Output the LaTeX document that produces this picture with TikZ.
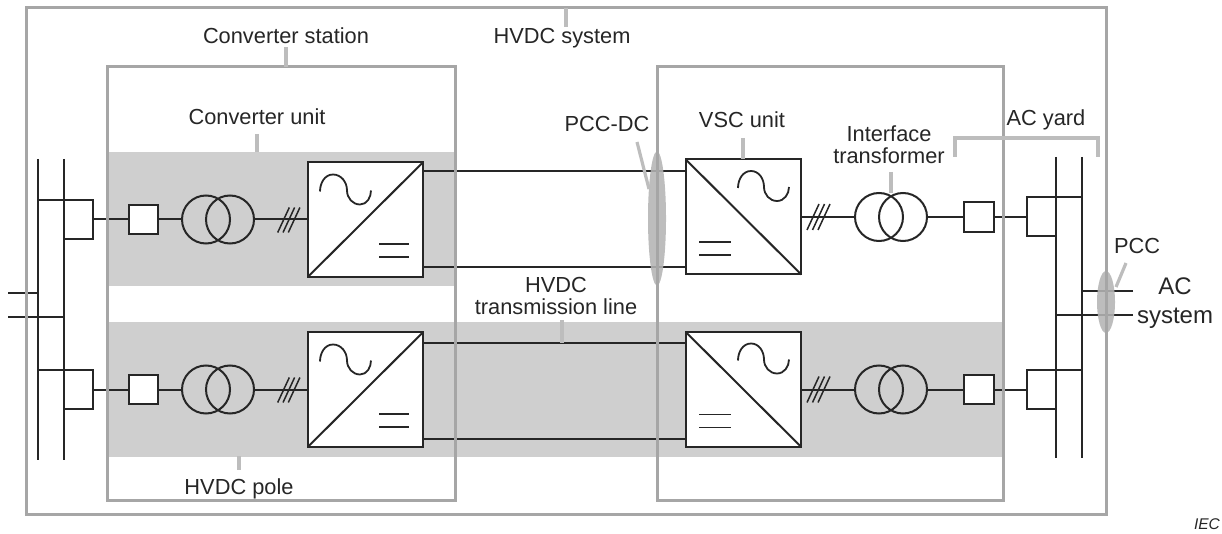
\documentclass[tikz,border=0pt]{standalone}
\usepackage{fontspec}
\setmainfont{Liberation Sans}
\usepackage{xcolor}
\usetikzlibrary{positioning,calc,shapes.geometric}
\definecolor{ink}{HTML}{262626}
\definecolor{framegray}{HTML}{A6A6A6}
\definecolor{leadgray}{HTML}{BDBDBD}
\definecolor{bandgray}{HTML}{CFCFCF}
\definecolor{spotgray}{HTML}{B4B4B4}
\tikzset{
    every picture/.style={line join=miter},
    wire/.style={draw=ink,line width=2pt},
    lead/.style={draw=leadgray,line width=3.2pt},
    framebox/.style={draw=framegray,line width=3pt,inner sep=0pt,outer sep=0pt},
    bandbox/.style={fill=bandgray,inner sep=0pt,outer sep=0pt},
    breaker/.style={draw=ink,fill=white,line width=2pt,minimum size=29.5pt,inner sep=0pt,outer sep=0pt},
    winding/.style={circle,draw=ink,line width=2pt,minimum size=48pt,inner sep=0pt,outer sep=0pt},
    convbox/.style={draw=ink,fill=white,line width=2pt,minimum width=115.5pt,minimum height=115pt,inner sep=0pt,outer sep=0pt},
    spot/.style={ellipse,fill=spotgray,fill opacity=0.88,inner sep=0pt,outer sep=0pt},
    lbl/.style={text=ink,inner sep=0pt,anchor=base,font=\fontsize{21.8}{22}\selectfont,align=center}
}
\begin{document}
\begin{tikzpicture}[x=1pt,y=-1pt]
  \useasboundingbox (0,0) rectangle (1222,534);
  \node[bandbox,minimum width=348pt,minimum height=134pt] (bandU) at (281,219) {};
  \node[bandbox,minimum width=896pt,minimum height=135pt] (bandL) at (555,389.5) {};

  % bus bars on both sides
  \coordinate (busA1) at (38,159);  \coordinate (busA2) at (38,460);
  \coordinate (busB1) at (64,159);  \coordinate (busB2) at (64,460);
  \coordinate (busC1) at (1056,157); \coordinate (busC2) at (1056,458);
  \coordinate (busD1) at (1082,157); \coordinate (busD2) at (1082,458);
  \foreach \bus in {A,B,C,D}
    \draw[wire] (bus\bus1) -- (bus\bus2);
  \coordinate (stubA) at (8,293);
  \coordinate (stubB) at (8,317);
  \coordinate (stubC) at (1133,291);
  \coordinate (stubD) at (1133,315);
  \draw[wire] (stubA) -- (busA1|-stubA);
  \draw[wire] (stubB) -- (busB1|-stubB);
  \draw[wire] (stubC) -- (busD1|-stubC);
  \draw[wire] (stubD) -- (busC1|-stubD);

  % left converter units
  \foreach \row/\yy in {U/219.5,L/389.5} {
    \coordinate (tapL\row) at (38,\yy-19.5);
    \coordinate (feedL\row) at (93,\yy);
    \coordinate (endL\row) at (64,\yy+19.5);
    \draw[wire] (tapL\row) -| (feedL\row) |- (endL\row);
    \node[breaker] (brkL\row) at (143.5,\yy) {};
    \node[winding] (wdLa\row) at (206,\yy) {};
    \node[winding] (wdLb\row) at (230,\yy) {};
    \node[convbox] (cvL\row) at (365.5,\yy) {};
    \draw[wire] (feedL\row) -- (brkL\row);
    \draw[wire] (brkL\row) -- (wdLa\row);
    \draw[wire] (wdLb\row) -- (cvL\row);
    \foreach \dx in {0,5.3,10.6}
      \draw[wire,line width=1.5pt] (277.7+\dx,\yy+13) -- (289.3+\dx,\yy-12);
    \draw[wire] (cvL\row.south west) -- (cvL\row.north east);
    \draw[wire,line width=1.8pt] (320,\yy-28) to[out=90,in=180] ++(13,-17) to[out=0,in=90] ++(14,16)
      to[out=-90,in=180] ++(13,14) to[out=0,in=-90] ++(11,-14);
    \draw[wire,line width=1.8pt] (379,\yy+24.5) -- (409,\yy+24.5);
    \draw[wire,line width=1.8pt] (379,\yy+37.5) -- (409,\yy+37.5);
  }

  % right converter units
  \foreach \row/\yy in {U/217,L/389.5} {
    \coordinate (tapR\row) at (1082,\yy-19.5);
    \coordinate (feedR\row) at (1027,\yy);
    \coordinate (endR\row) at (1056,\yy+19.5);
    \draw[wire] (tapR\row) -| (feedR\row) |- (endR\row);
    \node[breaker] (brkR\row) at (979,\yy) {};
    \node[winding] (wdRa\row) at (879,\yy) {};
    \node[winding] (wdRb\row) at (903,\yy) {};
    \node[convbox] (cvR\row) at (743.5,\yy) {};
    \draw[wire] (feedR\row) -- (brkR\row);
    \draw[wire] (brkR\row) -- (wdRb\row);
    \draw[wire] (wdRa\row) -- (cvR\row);
    \foreach \dx in {0,5.5,11}
      \draw[wire,line width=1.5pt] (807+\dx,\yy+13) -- (819+\dx,\yy-13);
    \draw[wire] (cvR\row.north west) -- (cvR\row.south east);
    \draw[wire,line width=1.8pt] (738,\yy-29) to[out=90,in=180] ++(13,-17) to[out=0,in=90] ++(13,16)
      to[out=-90,in=180] ++(13,14) to[out=0,in=-90] ++(12,-14);
    \draw[wire,line width=1.8pt] (699,\yy+25) -- (731,\yy+25);
    \draw[wire,line width=1.8pt] (699,\yy+38) -- (731,\yy+38);
  }

  % dc lines
  \foreach \row/\yt/\yb in {U/171/267,L/343/439} {
    \draw[wire] (cvL\row.east|-0,\yt) -- (cvR\row.west|-0,\yt);
    \draw[wire] (cvL\row.east|-0,\yb) -- (cvR\row.west|-0,\yb);
  }

  \node[spot,minimum width=18pt,minimum height=134pt] (spotDC) at (657,218.5) {};
  \node[spot,minimum width=18pt,minimum height=62pt] (spotAC) at (1106,302) {};

  \node[framebox,minimum width=1080pt,minimum height=506pt] (sysBox) at (566,261) {};
  \node[framebox,minimum width=348pt,minimum height=433pt] (stnL) at (281,283.5) {};
  \node[framebox,minimum width=346pt,minimum height=433pt] (stnR) at (830,283.5) {};

  % labels
  \node[lbl] (lblSys) at (562,44) {HVDC system};
  \node[lbl] (lblStn) at (286,44) {Converter station};
  \node[lbl] (lblUnit) at (257,125) {Converter unit};
  \node[lbl] (lblPole) at (239,494) {HVDC pole};
  \node[lbl] (lblPcd) at (607,132) {PCC-DC};
  \node[lbl] (lblVsc) at (742,128) {VSC unit};
  \node[lbl] (lblYard) at (1046,126) {AC yard};
  \node[lbl] (lblPcc) at (1137,254) {PCC};
  \node[lbl,anchor=center] (lblTrf) at (889,145) {Interface\\transformer};
  \node[lbl,anchor=center] (lblLine) at (556,296) {HVDC\\transmission line};
  \node[text=ink,inner sep=0pt,align=center,font=\fontsize{24}{29}\selectfont] (lblAc) at (1175,303) {AC\\system};
  \node[text=ink,inner sep=0pt,anchor=base,font=\fontsize{15.5}{16}\selectfont\itshape] (lblIec) at (1207,529) {IEC};

  % pointers
  \draw[lead] (566,8) -- (566,27);
  \draw[lead] (286,47) -- (286,67);
  \draw[lead] (257,134) -- (257,152);
  \draw[lead] (239,456) -- (239,470);
  \draw[lead] (562,320) -- (562,343);
  \draw[lead] (743,138) -- (cvRU.north-|743,0);
  \draw[lead] (891,172) -- (891,193);
  \draw[lead] (637,142) -- (649,189);
  \draw[lead] (1126,263) -- (1116,287);
  \coordinate (yardA) at (955,157);
  \coordinate (yardB) at (1098,157);
  \draw[lead] (yardA) |- (1026,138) -| (yardB);
\end{tikzpicture}
\end{document}
